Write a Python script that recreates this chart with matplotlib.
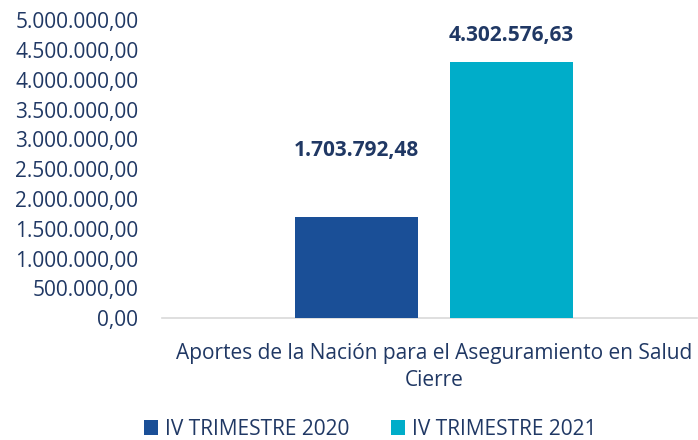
import numpy as np
import matplotlib.pyplot as plt
from matplotlib.ticker import FuncFormatter

# datos
categoria = "Aportes de la Nación para el Aseguramiento en Salud\nCierre"
series = ["IV TRIMESTRE 2020", "IV TRIMESTRE 2021"]
valores = [1703792.48, 4302576.63]
colores = ["#1A4F97", "#00ADC9"]
desfase_etiqueta = [40, 11]   # puntos sobre la barra

texto = "#203864"
plt.rcParams['font.family'] = ['Open Sans', 'DejaVu Sans']


def miles(v, pos=None):
    # formato 1.234.567,89
    s = f"{v:,.2f}"
    return s.replace(",", "X").replace(".", ",").replace("X", ".")


fig = plt.figure(figsize=(6.98, 4.40), dpi=100)
ax = fig.add_axes([0.232, 0.277, 0.767, 0.6773])

ancho = 0.23
pos = [-0.145, 0.145]
for i in range(2):
    ax.bar(pos[i], valores[i], width=ancho, color=colores[i], label=series[i], zorder=3)
    ax.annotate(miles(valores[i]), (pos[i], valores[i]), xytext=(0, desfase_etiqueta[i]),
                textcoords="offset points", ha="center", va="bottom",
                fontsize=15, fontweight="bold", color=texto)

ax.set_ylim(0, 5000000)
ax.set_yticks(np.arange(0, 5000001, 500000))
ax.yaxis.set_major_formatter(FuncFormatter(miles))
ax.set_xlim(-0.508, 0.492)
ax.set_xticks([0])
ax.set_xticklabels([categoria], linespacing=1.35)

ax.tick_params(axis="y", length=0, pad=17, labelsize=15, labelcolor=texto)
ax.tick_params(axis="x", length=0, pad=18, labelsize=15, labelcolor=texto)
for lado in ["top", "right", "left"]:
    ax.spines[lado].set_visible(False)
ax.spines["bottom"].set_color("#D9D9D9")
ax.spines["bottom"].set_linewidth(1.2)

fig.legend(loc="center", bbox_to_anchor=(0.53, 0.025), ncol=2, frameon=False,
           fontsize=15, labelcolor=texto, handlelength=0.7, handleheight=0.7,
           handletextpad=0.3, columnspacing=2.0)

fig.savefig("out.png", dpi=100)
